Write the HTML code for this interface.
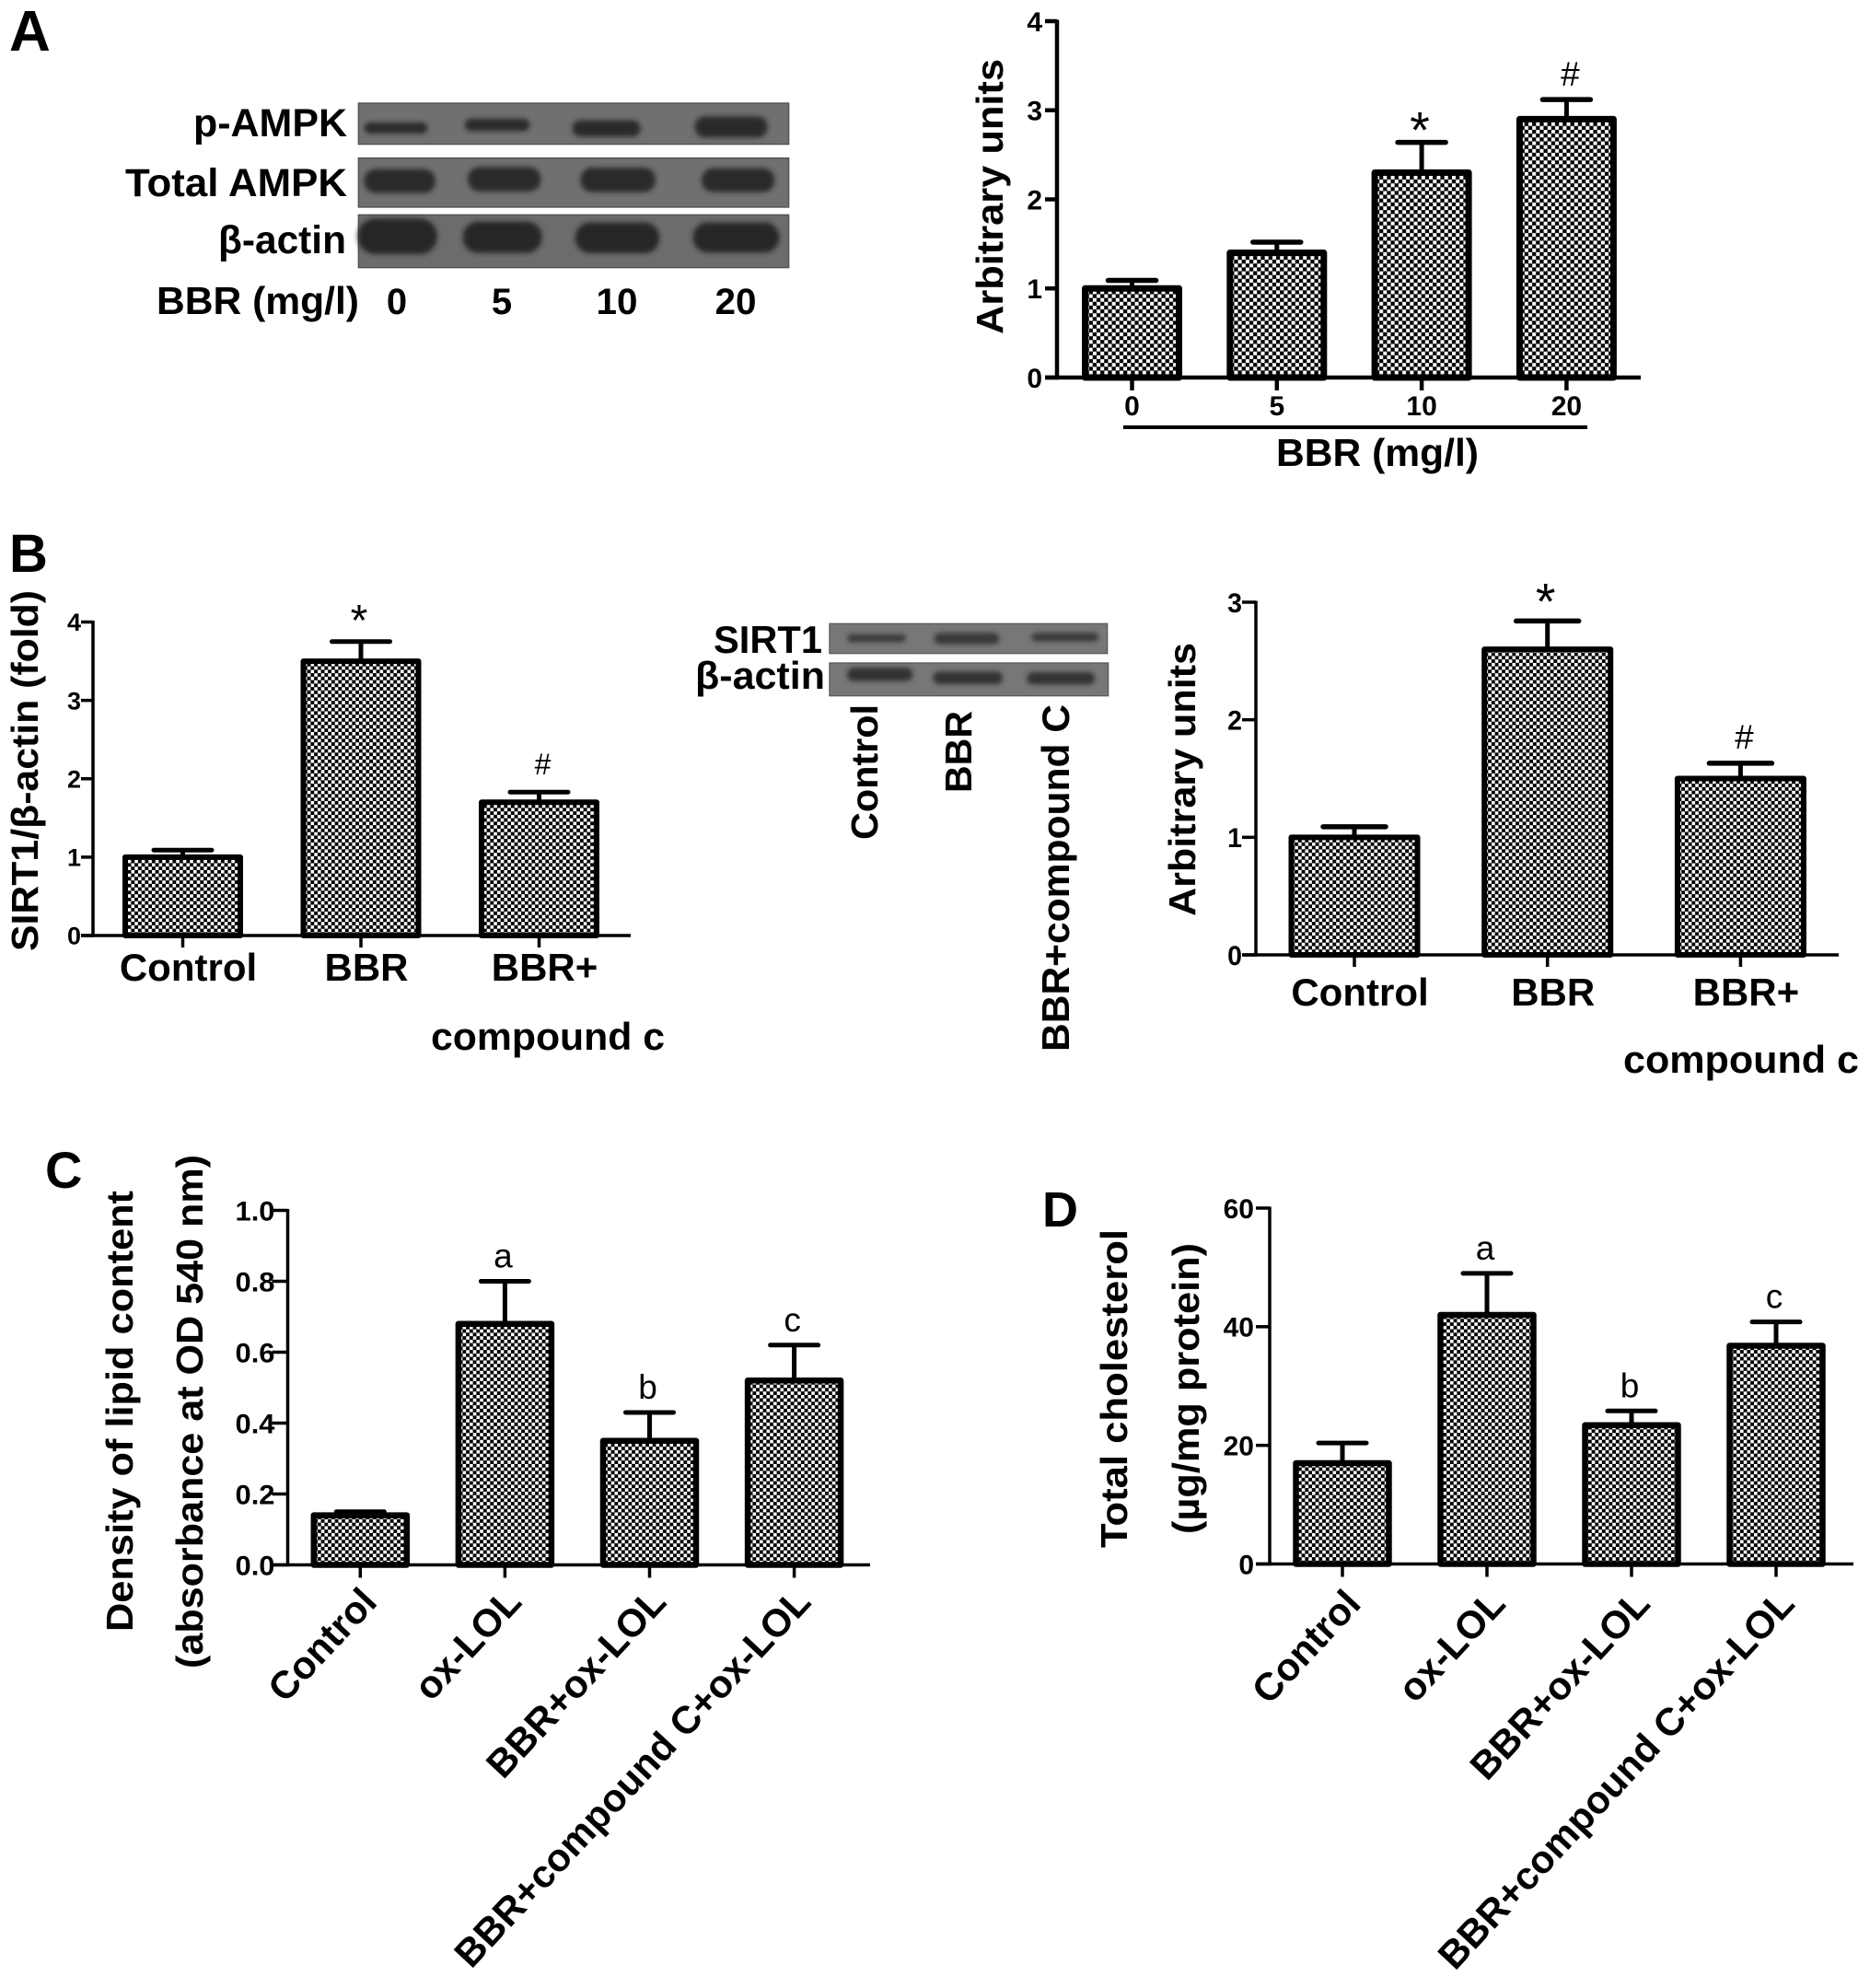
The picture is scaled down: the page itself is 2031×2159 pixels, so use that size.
<!DOCTYPE html>
<html lang="en">
<head>
<meta charset="utf-8">
<title>BBR western blot and bar chart figure</title>
<style>
html,body{margin:0;padding:0;background:#fff;}
svg{display:block;}
text{font-family:"Liberation Sans","Noto Sans CJK SC",sans-serif;fill:#000;}
.b{font-weight:700;}
</style>
</head>
<body>
<svg id="fig" xmlns="http://www.w3.org/2000/svg" width="2031" height="2159" viewBox="0 0 2031 2159">
<defs>
<filter id="blur2" x="-20%" y="-60%" width="140%" height="220%"><feGaussianBlur stdDeviation="8"/></filter>
<pattern id="chk83" patternUnits="userSpaceOnUse" width="8.3" height="8.3"><rect width="8.3" height="8.3" fill="#000"/><rect width="4" height="4" fill="#fff"/><rect x="4.15" y="4.15" width="4" height="4" fill="#fff"/></pattern>
<pattern id="chk75" patternUnits="userSpaceOnUse" width="7.5" height="7.5"><rect width="7.5" height="7.5" fill="#000"/><rect width="3.6" height="3.6" fill="#fff"/><rect x="3.75" y="3.75" width="3.6" height="3.6" fill="#fff"/></pattern>
</defs>

<!-- Panel letters -->
<text class="b" x="10" y="55" font-size="62">A</text>
<text class="b" x="10" y="621" font-size="58">B</text>
<text class="b" x="49" y="1290" font-size="56">C</text>
<text class="b" x="1132" y="1332" font-size="54">D</text>

<!-- Panel A blot -->
<g transform="translate(380,100) scale(0.33333)">
  <g>
    <rect x="28" y="36" width="1402" height="134" fill="#707070" stroke="#505050" stroke-width="4"/>
    <g fill="#2a2a2a" stroke="#2a2a2a" stroke-width="6" filter="url(#blur2)">
      <rect x="50" y="102" width="200" height="30" rx="15"/><rect x="377" y="90" width="206" height="34" rx="17"/><rect x="728" y="95" width="216" height="47" rx="23"/><rect x="1127" y="82" width="231" height="63" rx="30"/>
    </g>
  </g>
  <g>
    <rect x="28" y="215" width="1402" height="160" fill="#707070" stroke="#505050" stroke-width="4"/>
    <g fill="#2a2a2a" stroke="#2a2a2a" stroke-width="12" filter="url(#blur2)">
      <rect x="52" y="257" width="221" height="66" rx="32"/><rect x="390" y="250" width="226" height="68" rx="32"/><rect x="757" y="252" width="233" height="68" rx="32"/><rect x="1152" y="254" width="226" height="66" rx="32"/>
    </g>
  </g>
  <g>
    <rect x="28" y="400" width="1402" height="172" fill="#6c6c6c" stroke="#505050" stroke-width="4"/>
    <g fill="#262626" stroke="#262626" stroke-width="12" filter="url(#blur2)">
      <rect x="32" y="418" width="246" height="104" rx="50"/><rect x="374" y="428" width="246" height="90" rx="44"/><rect x="740" y="431" width="263" height="88" rx="44"/><rect x="1124" y="431" width="269" height="86" rx="42"/>
    </g>
  </g>
</g>
<text class="b" x="210" y="148" font-size="43" textLength="167" lengthAdjust="spacingAndGlyphs">p-AMPK</text>
<text class="b" x="136" y="213" font-size="43" textLength="241" lengthAdjust="spacingAndGlyphs">Total AMPK</text>
<text class="b" x="237" y="275" font-size="43" textLength="139" lengthAdjust="spacingAndGlyphs">β-actin</text>
<text class="b" x="170" y="341" font-size="42" textLength="220" lengthAdjust="spacingAndGlyphs">BBR (mg/l)</text>
<text class="b" x="431" y="341" font-size="40" text-anchor="middle">0</text>
<text class="b" x="545" y="341" font-size="40" text-anchor="middle">5</text>
<text class="b" x="670" y="341" font-size="40" text-anchor="middle" textLength="45" lengthAdjust="spacingAndGlyphs">10</text>
<text class="b" x="799" y="341" font-size="40" text-anchor="middle" textLength="45" lengthAdjust="spacingAndGlyphs">20</text>

<!-- Panel B blot -->
<g transform="translate(890,665) scale(0.33333)">
  <g>
    <rect x="33" y="37" width="905" height="97" fill="#777" stroke="#5a5a5a" stroke-width="4"/>
    <g fill="#383838" stroke="#383838" stroke-width="6" filter="url(#blur2)">
      <rect x="94" y="75" width="184" height="19" rx="9"/><rect x="377" y="70" width="206" height="31" rx="15"/><rect x="694" y="70" width="212" height="22" rx="11"/>
    </g>
  </g>
  <g>
    <rect x="33" y="165" width="908" height="107" fill="#777" stroke="#5a5a5a" stroke-width="4"/>
    <g fill="#303030" stroke="#303030" stroke-width="8" filter="url(#blur2)">
      <rect x="94" y="184" width="206" height="36" rx="18"/><rect x="374" y="197" width="219" height="33" rx="16"/><rect x="680" y="199" width="213" height="32" rx="16"/>
    </g>
  </g>
</g>
<text class="b" x="775" y="709" font-size="42" textLength="118" lengthAdjust="spacingAndGlyphs">SIRT1</text>
<text class="b" x="755" y="748" font-size="42" textLength="141" lengthAdjust="spacingAndGlyphs">β-actin</text>
<text class="b" transform="translate(953,912) rotate(-90)" font-size="41" textLength="147" lengthAdjust="spacingAndGlyphs">Control</text>
<text class="b" transform="translate(1055,861) rotate(-90)" font-size="41" textLength="89" lengthAdjust="spacingAndGlyphs">BBR</text>
<text class="b" transform="translate(1161,1142) rotate(-90)" font-size="42" textLength="377" lengthAdjust="spacingAndGlyphs">BBR+compound C</text>

<!-- Static axis titles and notes -->
<text class="b" transform="translate(1089,363) rotate(-90)" font-size="41" textLength="299" lengthAdjust="spacingAndGlyphs">Arbitrary units</text>
<rect x="1220" y="462" width="504" height="4" fill="#000"/>
<text class="b" x="1386" y="506" font-size="42" textLength="220" lengthAdjust="spacingAndGlyphs">BBR (mg/l)</text>

<text class="b" transform="translate(41,1033) rotate(-90)" font-size="41" textLength="392" lengthAdjust="spacingAndGlyphs">SIRT1/β-actin (fold)</text>
<text class="b" x="468" y="1140" font-size="42" textLength="254" lengthAdjust="spacingAndGlyphs">compound c</text>

<text class="b" transform="translate(1298,995) rotate(-90)" font-size="41" textLength="297" lengthAdjust="spacingAndGlyphs">Arbitrary units</text>
<text class="b" x="1763" y="1165" font-size="42" textLength="256" lengthAdjust="spacingAndGlyphs">compound c</text>

<text class="b" transform="translate(144,1772) rotate(-90)" font-size="41" textLength="479" lengthAdjust="spacingAndGlyphs">Density of lipid content</text>
<text class="b" transform="translate(220,1812) rotate(-90)" font-size="41" textLength="558" lengthAdjust="spacingAndGlyphs">(absorbance at OD 540 nm)</text>

<text class="b" transform="translate(1224,1681) rotate(-90)" font-size="41" textLength="346" lengthAdjust="spacingAndGlyphs">Total cholesterol</text>
<text class="b" transform="translate(1302,1666) rotate(-90)" font-size="41" textLength="316" lengthAdjust="spacingAndGlyphs">(µg/mg protein)</text>
</svg>

<script>
// Panel A: AMPK densitometry
const aCategories = ["0", "5", "10", "20"];
const aValues = [1.0, 1.4, 2.3, 2.9];
const aErrorTops = [1.09, 1.52, 2.64, 3.12];
const aTicks = ["0", "1", "2", "3", "4"];
const aMarks = ["", "", "*", "#"];

// Panel B left: SIRT1 / beta-actin
const bLeftCategories = ["Control", "BBR", "BBR+"];
const bLeftValues = [1.0, 3.5, 1.7];
const bLeftErrorTops = [1.09, 3.75, 1.83];
const bLeftTicks = ["0", "1", "2", "3", "4"];
const bLeftMarks = ["", "*", "#"];

// Panel B right: arbitrary units
const bRightCategories = ["Control", "BBR", "BBR+"];
const bRightValues = [1.0, 2.6, 1.5];
const bRightErrorTops = [1.09, 2.84, 1.63];
const bRightTicks = ["0", "1", "2", "3"];
const bRightMarks = ["", "*", "#"];

// Panel C: lipid content
const cCategories = ["Control", "ox-LOL", "BBR+ox-LOL", "BBR+compound C+ox-LOL"];
const cValues = [0.14, 0.68, 0.35, 0.52];
const cErrorTops = [0.15, 0.80, 0.43, 0.62];
const cTicks = ["0.0", "0.2", "0.4", "0.6", "0.8", "1.0"];
const cMarks = ["", "a", "b", "c"];

// Panel D: total cholesterol
const dCategories = ["Control", "ox-LOL", "BBR+ox-LOL", "BBR+compound C+ox-LOL"];
const dValues = [17, 42, 23.4, 36.8];
const dErrorTops = [20.4, 49, 25.8, 40.8];
const dTicks = ["0", "20", "40", "60"];
const dMarks = ["", "a", "b", "c"];

const SVG_NS = "http://www.w3.org/2000/svg";
const fig = document.getElementById("fig");

function make(tag, parent) {
  const el = document.createElementNS(SVG_NS, tag);
  parent.appendChild(el);
  return el;
}

function line(parent, x1, y1, x2, y2, width, cap) {
  const el = make("line", parent);
  el.setAttribute("x1", x1);
  el.setAttribute("y1", y1);
  el.setAttribute("x2", x2);
  el.setAttribute("y2", y2);
  el.setAttribute("stroke", "#000");
  el.setAttribute("stroke-width", width);
  el.setAttribute("stroke-linecap", cap || "butt");
  return el;
}

function label(parent, str, x, y, size, anchor, bold, stretch) {
  const el = make("text", parent);
  el.textContent = str;
  el.setAttribute("x", x);
  el.setAttribute("y", y);
  el.setAttribute("font-size", size);
  el.setAttribute("text-anchor", anchor);
  if (bold) el.setAttribute("font-weight", "700");
  if (stretch && stretch !== 1) {
    const w = el.getComputedTextLength();
    el.setAttribute("textLength", w * stretch);
    el.setAttribute("lengthAdjust", "spacingAndGlyphs");
  }
  return el;
}

function drawChart(p) {
  const g = make("g", fig);
  
  

  const maxTick = parseFloat(p.ticks[p.ticks.length - 1]);
  const yScale = v => p.y0 - (v / maxTick) * (p.y0 - p.yTop);
  const xScale = i => p.x0 + i * p.step;

  // bars first so that the axis sits on top
  p.values.forEach((v, i) => {
    const cx = xScale(i);
    const hw = (p.barW - p.barStroke) / 2;
    const errY = yScale(p.errs[i]);
    const stem = line(g, cx, yScale(v), cx, errY, p.stem);
    
    
    const cap = line(g, cx - p.capW / 2 + 3, errY, cx + p.capW / 2 - 3, errY, p.capT, "round");
    
    
    const bar = make("rect", g);
    
    
    bar.setAttribute("x", cx - hw);
    bar.setAttribute("y", yScale(v));
    bar.setAttribute("width", hw * 2);
    bar.setAttribute("height", p.y0 - yScale(v));
    bar.setAttribute("fill", "url(#" + p.pattern + ")");
    bar.setAttribute("stroke", "#000");
    bar.setAttribute("stroke-width", p.barStroke);
    bar.setAttribute("stroke-linejoin", "round");
    const markStr = p.marks[i];
    if (markStr) {
      const isStar = markStr === "*";
      const size = isStar ? p.markSize * 1.5 : p.markSize;
      const base = errY - p.markGap + (isStar ? 0.25 * size + (p.starDy || 0) : 0);
      const markX = markStr === "#" ? cx + 4 : cx - 2;
      const mark = label(g, markStr, markX, base, size, "middle", false, 1);
      
      
    }
  });

  const yAxis = line(g, p.axisX, p.yTop - 1.5, p.axisX, p.y0 + p.axisW / 2, p.axisW);
  
  
  const xAxis = line(g, p.axisX - p.yTickLen, p.y0, p.xEnd, p.y0, p.axisW);
  
  

  p.ticks.forEach(t => {
    const y = yScale(parseFloat(t));
    const tick = line(g, p.axisX - p.yTickLen, y, p.axisX, y, p.axisW);
    
    
    const lab = label(g, t, p.axisX - p.yTickLen - p.tickGap, y + 0.36 * p.tickSize, p.tickSize, "end", true, p.tickStretch);
    
    
  });

  p.categories.forEach((c, i) => {
    const cx = xScale(i);
    const tick = line(g, cx, p.y0, cx, p.y0 + p.xTickLen, p.axisW);
    
    
    let lab;
    if (p.rotated) {
      lab = label(g, c, 0, 0, p.catSize, "end", true, 1);
      lab.setAttribute("transform", "translate(" + (cx + p.catDx) + "," + (p.y0 + p.catDy) + ") rotate(-47)");
    } else {
      lab = label(g, c, cx + p.catDx, p.y0 + p.catDy, p.catSize, "middle", true, p.catStretch);
    }
    
    
  });
}

drawChart({
  name: "chart-a", categories: aCategories, values: aValues, errs: aErrorTops, ticks: aTicks, marks: aMarks,
  y0: 410, yTop: 23, axisX: 1148, xEnd: 1782, x0: 1229.5, step: 157.3, barW: 109, barStroke: 7,
  pattern: "chk83", stem: 5, capW: 58, capT: 5.5, axisW: 4.5, yTickLen: 13, tickGap: 3, xTickLen: 14,
  tickSize: 30, tickStretch: 1, catSize: 30, catStretch: 1, catDx: 0, catDy: 41, markSize: 37, markGap: 15, starDy: 7
});

drawChart({
  name: "chart-b-left", categories: bLeftCategories, values: bLeftValues, errs: bLeftErrorTops, ticks: bLeftTicks, marks: bLeftMarks,
  y0: 1016, yTop: 675.5, axisX: 101, xEnd: 685, x0: 198.5, step: 193.5, barW: 131, barStroke: 6,
  pattern: "chk75", stem: 5, capW: 69, capT: 5, axisW: 3.5, yTickLen: 13, tickGap: 0, xTickLen: 13,
  tickSize: 27, tickStretch: 1, catSize: 42, catStretch: 1, catDx: 6, catDy: 49, markSize: 32, markGap: 19
});

drawChart({
  name: "chart-b-right", categories: bRightCategories, values: bRightValues, errs: bRightErrorTops, ticks: bRightTicks, marks: bRightMarks,
  y0: 1037, yTop: 654, axisX: 1364, xEnd: 1997, x0: 1471, step: 209.7, barW: 143, barStroke: 6,
  pattern: "chk75", stem: 5, capW: 74, capT: 5.5, axisW: 3.5, yTickLen: 15, tickGap: 0, xTickLen: 13,
  tickSize: 30, tickStretch: 0.95, catSize: 42, catStretch: 1, catDx: 6, catDy: 55, markSize: 37, markGap: 16
});

drawChart({
  name: "chart-c", categories: cCategories, values: cValues, errs: cErrorTops, ticks: cTicks, marks: cMarks,
  y0: 1699.5, yTop: 1314.5, axisX: 312.5, xEnd: 945, x0: 391.3, step: 157.1, barW: 107.5, barStroke: 6.5,
  pattern: "chk75", stem: 5, capW: 58, capT: 5, axisW: 3.5, yTickLen: 17, tickGap: -3, xTickLen: 14,
  tickSize: 30, tickStretch: 1.03, catSize: 42, catStretch: 1, rotated: true, catDx: 20, catDy: 42, markSize: 37, markGap: 15
});

drawChart({
  name: "chart-d", categories: dCategories, values: dValues, errs: dErrorTops, ticks: dTicks, marks: dMarks,
  y0: 1698.5, yTop: 1312, axisX: 1379, xEnd: 2013, x0: 1458, step: 157, barW: 107.5, barStroke: 6.5,
  pattern: "chk75", stem: 5, capW: 58, capT: 5, axisW: 3.5, yTickLen: 15, tickGap: 2, xTickLen: 14,
  tickSize: 30, tickStretch: 1, catSize: 42, catStretch: 1, rotated: true, catDx: 22, catDy: 45, markSize: 37, markGap: 15
});
</script>
</body>
</html>
